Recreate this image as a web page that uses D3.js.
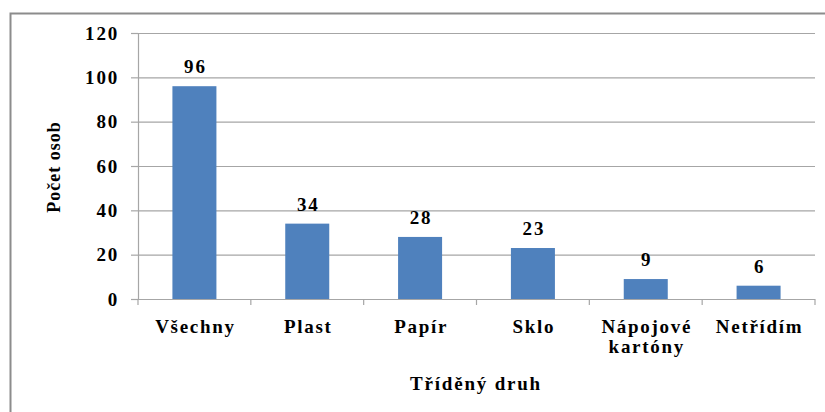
<!DOCTYPE html>
<html>
<head>
<meta charset="utf-8">
<script src="https://cdn.jsdelivr.net/npm/d3@7"></script>
<style>
  body { margin: 0; background: #fff; }
  svg { display: block; }
</style>
</head>
<body>
<svg width="825" height="412"></svg>
<script>
  const categories = ['Všechny', 'Plast', 'Papír', 'Sklo', 'Nápojové kartóny', 'Netřídím'];
  const values = [96, 34, 28, 23, 9, 6];
  const yTicks = [0, 20, 40, 60, 80, 100, 120];

  const FONT = "'Liberation Serif'";

  // bold serif text, letters spread a little like the original export
  function styleText(sel, size, spacing) {
    return sel
      .style('font-family', FONT)
      .style('font-weight', 'bold')
      .style('font-size', size + 'px')
      .style('letter-spacing', spacing + 'px')
      .attr('fill', '#000');
  }

  const svg = d3.select('svg');
  const margin = {top: 33, right: 10, bottom: 113, left: 138};
  const width = 815 - margin.left;
  const height = 299 - margin.top;

  // outer frame (top and left edges only are visible)
  svg.append('path')
    .attr('d', 'M10.5,412 V13.5 H825')
    .attr('fill', 'none')
    .attr('stroke', '#8c8c8c')
    .attr('stroke-width', 2);

  const g = svg.append('g')
    .attr('transform', 'translate(' + margin.left + ',' + margin.top + ')');

  const x = d3.scaleBand()
    .domain(categories)
    .range([0, width])
    .paddingInner(0.61)
    .paddingOuter(0.305);

  const xb = d3.scaleBand().domain(categories).range([0, width]);

  const y = d3.scaleLinear()
    .domain([0, 120])
    .range([height, 0]);

  // gridlines
  g.append('g')
    .selectAll('line')
    .data(yTicks.filter((d) => d > 0))
    .enter().append('line')
    .attr('x1', 0)
    .attr('x2', width)
    .attr('y1', (d) => y(d) + 0.5)
    .attr('y2', (d) => y(d) + 0.5)
    .attr('stroke', '#a6a6a6')
    .attr('stroke-width', 1.2);

  g.selectAll('.bar')
    .data(values)
    .enter().append('rect')
    .attr('class', 'bar')
    .attr('x', (d, i) => x(categories[i]))
    .attr('y', (d) => y(d))
    .attr('width', x.bandwidth())
    .attr('height', (d) => height - y(d))
    .attr('fill', '#4f81bd');

  styleText(g.selectAll('.val')
    .data(values)
    .enter().append('text')
    .attr('class', 'val')
    .attr('x', (d, i) => x(categories[i]) + x.bandwidth() / 2 + 1)
    .attr('y', (d) => y(d) - 13)
    .attr('text-anchor', 'middle'), 19, 1.8)
    .text((d) => d);

  // y axis
  const yAxis = g.append('g')
    .call(d3.axisLeft(y).tickValues(yTicks).tickSize(7).tickPadding(12));
  yAxis.select('.domain').attr('stroke', '#a6a6a6').attr('stroke-width', 1.2);
  yAxis.selectAll('.tick line').attr('stroke', '#a6a6a6').attr('stroke-width', 1.2);
  styleText(yAxis.selectAll('.tick text'), 19, 1.8);

  // x axis
  const xAxis = g.append('g')
    .attr('transform', 'translate(0,' + height + ')');
  xAxis.append('line')
    .attr('x1', 0).attr('x2', width)
    .attr('y1', 0.5).attr('y2', 0.5)
    .attr('stroke', '#a6a6a6').attr('stroke-width', 1.2);
  xAxis.selectAll('.xtick')
    .data(categories.concat([null]))
    .enter().append('line')
    .attr('class', 'xtick')
    .attr('x1', (d, i) => i * xb.bandwidth())
    .attr('x2', (d, i) => i * xb.bandwidth())
    .attr('y1', 0)
    .attr('y2', 6)
    .attr('stroke', '#a6a6a6').attr('stroke-width', 1.2);

  const labels = styleText(xAxis.selectAll('.xlab')
    .data(categories)
    .enter().append('text')
    .attr('class', 'xlab')
    .attr('text-anchor', 'middle')
    .attr('transform', (d) => 'translate(' + (xb(d) + xb.bandwidth() / 2 + 1) + ',34)'), 19, 1.7);
  labels.each(function(d) {
    const words = d === 'Nápojové kartóny' ? ['Nápojové', 'kartóny'] : [d];
    d3.select(this).selectAll('tspan')
      .data(words)
      .enter().append('tspan')
      .attr('x', 0)
      .attr('dy', (w, i) => i === 0 ? 0 : 20)
      .text((w) => w);
  });

  styleText(svg.append('text')
    .attr('x', 476)
    .attr('y', 390)
    .attr('text-anchor', 'middle'), 19, 1.8)
    .text('Tříděný druh');

  styleText(svg.append('text')
    .attr('transform', 'translate(60,167) rotate(-90)')
    .attr('text-anchor', 'middle'), 18, 1)
    .text('Počet osob');
</script>
</body>
</html>
